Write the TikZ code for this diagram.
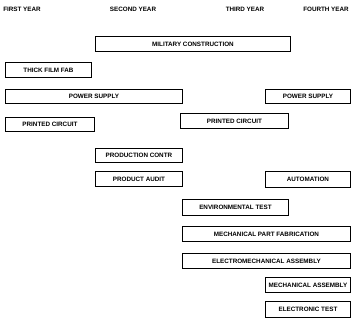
\documentclass[tikz,border=0pt]{standalone}
\usepackage{fontspec}
\setmainfont{Liberation Sans}
\begin{document}
\begin{tikzpicture}[x=1pt,y=-1pt,
  box/.style={draw, line width=0.9pt, anchor=north west, inner sep=0pt,
    font=\fontsize{6.3}{7}\selectfont\bfseries, align=center},
  hdr/.style={font=\fontsize{6.3}{7}\selectfont\bfseries, inner sep=0pt}]
\useasboundingbox (0,0) rectangle (353,326);
\node[hdr] (y1) at (22,9) {FIRST YEAR};
\node[hdr] (y2) at (133,9) {SECOND YEAR};
\node[hdr] (y3) at (245,9) {THIRD YEAR};
\node[hdr] (y4) at (326,9) {FOURTH YEAR};
\newcommand{\bx}[6]{\node[box, minimum width=#4-#2, minimum height=#5-#3] (#1) at (#2,#3) {#6};}
\bx{mc}{95}{36}{290}{51}{MILITARY CONSTRUCTION}
\bx{tf}{5}{62}{91}{77}{THICK FILM FAB}
\bx{ps1}{5}{89}{182}{103}{POWER SUPPLY}
\bx{ps2}{265}{89}{350}{103}{POWER SUPPLY}
\bx{pc1}{5}{117}{94}{131}{PRINTED CIRCUIT}
\bx{pc2}{180}{113}{288}{128}{PRINTED CIRCUIT}
\bx{prc}{95}{148}{182}{162}{PRODUCTION CONTR}
\bx{pa}{95}{171}{182}{186}{PRODUCT AUDIT}
\bx{au}{265}{171}{350}{187}{AUTOMATION}
\bx{et}{182}{199}{288}{215}{ENVIRONMENTAL TEST}
\bx{mpf}{182}{226}{350}{241}{MECHANICAL PART FABRICATION}
\bx{ema}{182}{253}{350}{268}{ELECTROMECHANICAL ASSEMBLY}
\bx{ma}{265}{277}{350}{292}{MECHANICAL ASSEMBLY}
\bx{elt}{265}{301}{350}{317}{ELECTRONIC TEST}
\end{tikzpicture}
\end{document}
